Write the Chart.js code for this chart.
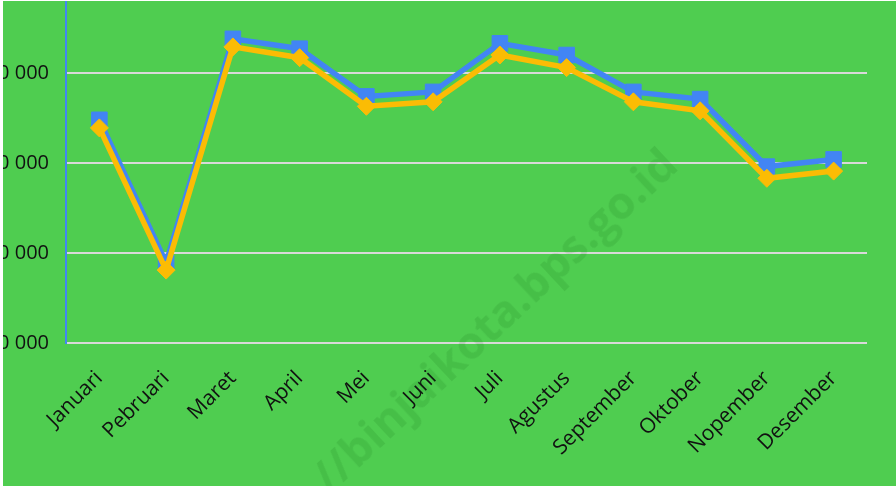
<!DOCTYPE html>
<html>
<head>
<meta charset="utf-8">
<script src="https://cdn.jsdelivr.net/npm/chart.js@4"></script>
<style>
  html, body { margin: 0; padding: 0; background: #ffffff; overflow: hidden; }
  #wrap { position: absolute; left: 3px; top: 1px; width: 893px; height: 485px; overflow: hidden; background: #4fcd50; }
  #c { position: absolute; left: -17px; top: -1px; }
  #wm { position: absolute; left: 490px; top: 318px; transform: translate(-50%, -50%) rotate(-43deg);
        white-space: nowrap; font: bold 45px "Open Sans", sans-serif; color: rgba(0, 90, 10, 0.12); pointer-events: none; }
</style>
</head>
<body>
<div id="wrap">
  <canvas id="c" width="910" height="486"></canvas>
  <div id="wm">//binjaikota.bps.go.id</div>
</div>
<script>
const months = ['Januari','Pebruari','Maret','April','Mei','Juni','Juli','Agustus','September','Oktober','Nopember','Desember'];
const seriesBlue = [54800, 38900, 63800, 62700, 57400, 57900, 63300, 62000, 57900, 57100, 49600, 50400];
const seriesYellow = [53900, 38100, 62900, 61700, 56300, 56800, 62000, 60600, 56800, 55800, 48300, 49100];
const yTicks = [30000, 40000, 50000, 60000];
const yMin = 30000;
const yMax = 68000;

const fmt = v => String(v).replace(/\B(?=(\d{3})+(?!\d))/g, ' ');

new Chart(document.getElementById('c'), {
  type: 'line',
  data: {
    labels: months,
    datasets: [
      {
        label: 'B',
        data: seriesYellow,
        borderColor: '#fbbc04',
        backgroundColor: '#fbbc04',
        borderWidth: 5.5,
        pointStyle: 'rectRot',
        pointRadius: 9,
        pointBorderWidth: 1,
        pointBorderColor: '#fbbc04',
        pointBackgroundColor: '#fbbc04',
        tension: 0,
        fill: false,
        clip: false
      },
      {
        label: 'A',
        data: seriesBlue,
        borderColor: '#4285f4',
        backgroundColor: '#4285f4',
        borderWidth: 5.5,
        pointStyle: 'rect',
        pointRadius: 11,
        pointBorderWidth: 1,
        pointBorderColor: '#4285f4',
        pointBackgroundColor: '#4285f4',
        tension: 0,
        fill: false,
        clip: false
      }
    ]
  },
  options: {
    responsive: false,
    animation: false,
    devicePixelRatio: 1,
    layout: { autoPadding: false, padding: { top: 1, right: 29, left: 0, bottom: 0 } },
    plugins: { legend: { display: false }, tooltip: { enabled: false } },
    scales: {
      x: {
        offset: true,
        grid: { display: false, drawTicks: false },
        border: { display: false },
        ticks: {
          autoSkip: false, maxRotation: 45, minRotation: 45, padding: 23,
          color: '#111111', font: { family: 'Open Sans', size: 21 }
        },
        afterFit: s => { s.height = 143; s.paddingLeft = 0; s.paddingRight = 0; }
      },
      y: {
        min: yMin,
        max: yMax,
        afterBuildTicks: s => { s.ticks = yTicks.map(v => ({ value: v })); },
        afterFit: s => { s.width = 80; s.paddingTop = 0; s.paddingBottom = 0; },
        grid: { color: '#d9d9d9', lineWidth: 2, drawTicks: false },
        border: { display: true, color: '#4285f4', width: 2 },
        ticks: {
          padding: 17, color: '#111111', font: { family: 'Open Sans', size: 20 },
          callback: v => fmt(v)
        }
      }
    }
  }
});
</script>
</body>
</html>
